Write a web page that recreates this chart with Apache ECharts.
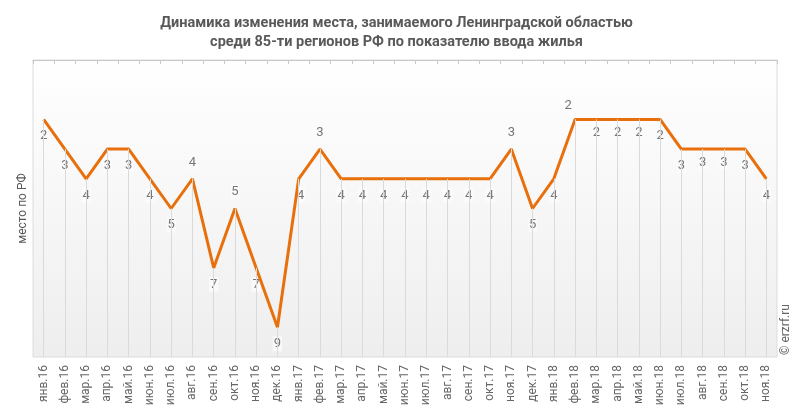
<!DOCTYPE html>
<html><head><meta charset="utf-8">
<script src="https://cdn.jsdelivr.net/npm/echarts@6/dist/echarts.min.js"></script>
<style>html,body{margin:0;padding:0;background:#fff}#c{width:793px;height:415px}</style>
</head><body><div id="c"></div>
<script>
const categories = ['янв.16','фев.16','мар.16','апр.16','май.16','июн.16','июл.16','авг.16','сен.16','окт.16','ноя.16','дек.16',
'янв.17','фев.17','мар.17','апр.17','май.17','июн.17','июл.17','авг.17','сен.17','окт.17','ноя.17','дек.17',
'янв.18','фев.18','мар.18','апр.18','май.18','июн.18','июл.18','авг.18','сен.18','окт.18','ноя.18'];
const places = [2,3,4,3,3,4,5,4,7,5,7,9, 4,3,4,4,4,4,4,4,4,4,3,5, 4,2,2,2,2,2,3,3,3,3,4];
const labelAbove = ['авг.16','окт.16','фев.17','ноя.17','фев.18'];
const labelNear = ['мар.18','апр.18','май.18','авг.18','сен.18','фев.18'];
const yMin = 0, yMax = 10;
const titleText = 'Динамика изменения места, занимаемого Ленинградской областью\nсреди 85-ти регионов РФ по показателю ввода жилья';

const chart = echarts.init(document.getElementById('c'), null, {renderer:'canvas'});
const labelData = places.map((v,i)=>{
  const c = categories[i];
  const above = labelAbove.includes(c);
  const extra = labelNear.includes(c) ? 0 : 3;
  let dx = 0;
  if (c === 'фев.18') dx = -7;
  if (c === 'янв.17') dx = 2;
  return { value: [c, v], label: { position: above ? 'top' : 'bottom', offset: [dx, above ? -extra : extra] } };
});
const dropLines = places.map((v,i)=>[{coord:[categories[i], v]},{coord:[categories[i], yMax]}]);
chart.setOption({
  animation:false,
  title:{ text:titleText, left:'center', top:9,
    textStyle:{ fontFamily:'Roboto', fontSize:14.5, fontWeight:'bold', color:'#595959', lineHeight:19 } },
  grid:{ left:33, right:16, top:60, bottom:58, show:true, borderColor:'#dcdcdc', borderWidth:1,
    backgroundColor: new echarts.graphic.LinearGradient(0,0,0,1,[{offset:0,color:'#ffffff'},{offset:1,color:'#eeeeee'}]) },
  xAxis:{ type:'category', data:categories, boundaryGap:true,
    axisLine:{ show:true, lineStyle:{ color:'#c8c8c8' } },
    axisTick:{ show:true, length:4, lineStyle:{ color:'#c8c8c8' } },
    axisLabel:{ rotate:90, fontFamily:'Roboto', fontSize:12, color:'#666', margin:8, interval:0 },
    splitLine:{ show:false } },
  yAxis:{ type:'value', inverse:true, min:yMin, max:yMax,
    axisLabel:{ show:false }, axisTick:{ show:false }, axisLine:{ show:false }, splitLine:{ show:false },
    name:'место по РФ', nameLocation:'middle', nameRotate:90, nameGap:4,
    nameTextStyle:{ fontFamily:'Roboto', fontSize:12, color:'#595959' } },
  graphic:[{ type:'text', x:792, y:355, rotation:Math.PI/2, style:{ text:'© erzrf.ru', fontFamily:'Roboto', fontSize:12, fill:'#666', textAlign:'left', textVerticalAlign:'bottom' } }],
  series:[
    { type:'line', data:places, showSymbol:false, symbol:'none', lineStyle:{ opacity:0 }, silent:true, z:1,
      markLine:{ silent:true, symbol:'none', label:{show:false}, lineStyle:{ color:'#dadada', width:1, type:'solid' }, data:dropLines } },
    { type:'scatter', data:labelData, symbol:'circle', symbolSize:2, z:2, silent:true,
      itemStyle:{ color:'rgba(0,0,0,0)' },
      label:{ show:true, formatter:(p)=>String(p.value[1]), fontFamily:'Roboto', fontSize:13, color:'#555', distance:5,
        backgroundColor:'#fbfbfb', padding:[1,1,1,1] } },
    { type:'line', data:places, symbol:'none', z:3,
      lineStyle:{ color:'#e8700c', width:3 } }
  ]
});
</script></body></html>
